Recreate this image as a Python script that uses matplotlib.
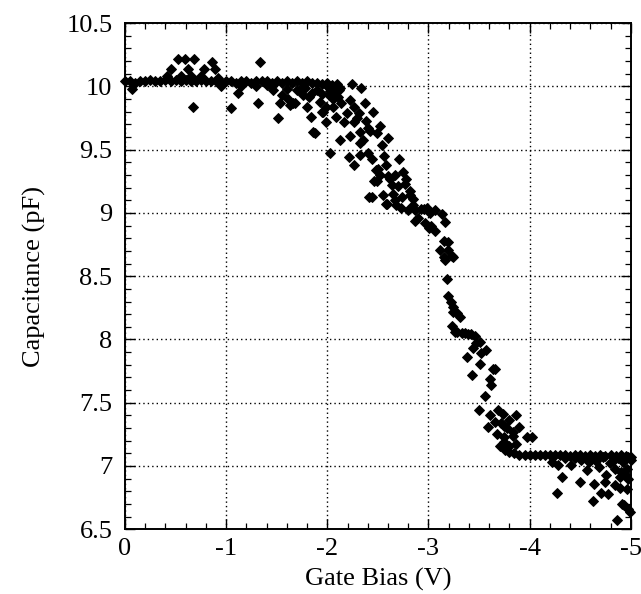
import matplotlib
matplotlib.use("Agg")
import matplotlib.pyplot as plt
from matplotlib.ticker import MultipleLocator, FuncFormatter

# ---- data ----
# main plateau near 10.04 pF (0 .. -2.05 V)
x_flat = [0.00, -0.05, -0.10, -0.15, -0.20, -0.25, -0.30, -0.35, -0.40, -0.45,
          -0.50, -0.55, -0.60, -0.65, -0.70, -0.75, -0.80, -0.85, -0.90, -0.95,
          -1.00, -1.05, -1.10, -1.15, -1.20, -1.25, -1.30, -1.35, -1.40, -1.45,
          -1.50, -1.55, -1.60, -1.65, -1.70, -1.75, -1.80, -1.85, -1.90, -1.95,
          -2.00, -2.05]
y_flat = [10.04, 10.04, 10.03, 10.04, 10.04, 10.05, 10.04, 10.04, 10.05, 10.04,
          10.05, 10.04, 10.05, 10.04, 10.04, 10.05, 10.04, 10.04, 10.04, 10.03,
          10.04, 10.04, 10.03, 10.04, 10.04, 10.03, 10.04, 10.04, 10.04, 10.03,
          10.04, 10.03, 10.04, 10.03, 10.04, 10.03, 10.04, 10.03, 10.03, 10.02,
          10.03, 10.01]

# scatter in the upper region (0 .. -2.15 V)
x_up = [-0.45, -0.52, -0.59, -0.68, -0.62, -0.78, -0.86, -0.89, -1.33, -0.42,
        -0.55, -0.65, -0.75, -0.92, -0.07, -0.67, -1.05, -1.12, -1.31, -1.51,
        -1.46, -1.53, -1.61, -1.63, -1.68, -1.55, -1.80, -1.84, -1.86, -1.76,
        -1.66, -1.96, -1.99, -1.88, -2.09, -2.06, -2.11, -2.12, -2.03, -1.93,
        -1.95, -1.99, -2.06, -2.03, -1.45, -1.60, -1.70, -1.78, -1.90, -1.95,
        -2.00, -2.05, -1.30, -1.15, -0.95, -1.40, -1.85, -2.08, -2.10, -2.13,
        -1.73, -1.82, -2.02]
y_up = [10.14, 10.22, 10.22, 10.22, 10.14, 10.14, 10.19, 10.14, 10.19, 10.08,
        10.08, 10.08, 10.08, 10.07, 9.98, 9.84, 9.83, 9.95, 9.87, 9.75,
        9.97, 9.87, 9.90, 9.85, 9.87, 9.93, 9.84, 9.76, 9.64, 9.93,
        9.87, 9.80, 9.72, 9.63, 9.76, 9.84, 9.92, 9.97, 9.96, 9.88,
        9.80, 9.84, 9.90, 9.47, 10.00, 9.98, 9.97, 9.99, 9.97, 9.94,
        10.00, 9.99, 10.00, 10.00, 10.00, 10.01, 9.95, 9.95, 10.02, 9.99,
        9.96, 9.92, 9.93]

# scatter in the middle region (-2.1 .. -3.5 V)
x_mid = [-2.24, -2.33, -2.37, -2.45, -2.14, -2.19, -2.17, -2.26, -2.31, -2.13,
         -2.22, -2.32, -2.40, -2.49, -2.52, -2.60, -2.54, -2.32, -2.21, -2.26,
         -2.32, -2.40, -2.44, -2.71, -2.50, -2.58, -2.49, -2.44, -2.52, -2.60,
         -2.67, -2.75, -2.64, -2.70, -2.77, -2.55, -2.58, -2.67, -2.74, -2.82,
         -2.85, -2.90, -2.22, -2.26, -2.29, -2.38, -2.42, -2.48, -2.46, -2.41,
         -2.65, -2.82, -2.85, -2.59, -2.68, -2.73, -2.80, -2.87, -2.93, -2.99,
         -3.06, -3.13, -2.87, -2.97, -3.03, -3.06, -3.01, -3.16, -2.96, -3.02,
         -3.11, -3.19, -3.16, -3.23, -3.15, -3.19, -3.24, -3.15, -3.18, -3.19,
         -3.24, -3.28, -3.22, -3.24, -3.31, -3.23, -3.26, -3.28, -3.33, -3.36,
         -3.39, -3.42, -3.46, -3.47, -3.51, -2.35, -2.56, -2.62, -2.78]
y_mid = [10.02, 9.99, 9.87, 9.80, 9.87, 9.79, 9.72, 9.72, 9.79, 9.58,
         9.61, 9.64, 9.67, 9.63, 9.69, 9.59, 9.54, 9.55, 9.44, 9.38,
         9.46, 9.47, 9.43, 9.43, 9.35, 9.38, 9.25, 9.13, 9.30, 9.29,
         9.30, 9.32, 9.22, 9.21, 9.23, 9.14, 9.07, 9.10, 9.13, 9.14,
         9.06, 8.96, 9.89, 9.84, 9.75, 9.73, 9.65, 9.34, 9.25, 9.13,
         9.15, 9.17, 9.11, 9.07, 9.06, 9.04, 9.02, 9.02, 9.03, 9.04,
         9.02, 8.99, 8.94, 8.92, 8.90, 8.86, 8.88, 8.93, 9.03, 9.00,
         8.71, 8.77, 8.63, 8.66, 8.78, 8.71, 8.65, 8.65, 8.48, 8.34,
         8.26, 8.21, 8.30, 8.22, 8.18, 8.11, 8.06, 8.06, 8.05, 8.05,
         8.04, 8.04, 8.03, 7.97, 7.98, 9.58, 9.45, 9.27, 9.27]

# lower plateau near 7.09 pF (-3.85 .. -5 V)
x_low_flat = [-3.85, -3.90, -3.95, -4.00, -4.05, -4.10, -4.15, -4.20, -4.25, -4.30,
              -4.35, -4.40, -4.45, -4.50, -4.55, -4.60, -4.65, -4.70, -4.75, -4.80,
              -4.85, -4.90, -4.95, -5.00]
y_low_flat = [7.10, 7.09, 7.09, 7.09, 7.09, 7.09, 7.09, 7.09, 7.09, 7.09,
              7.09, 7.08, 7.09, 7.09, 7.08, 7.09, 7.08, 7.09, 7.08, 7.09,
              7.08, 7.09, 7.08, 7.07]

# scatter in the lower region (-3.4 .. -5 V)
x_low = [-3.44, -3.52, -3.57, -3.38, -3.51, -3.66, -3.64, -3.43, -3.61, -3.62,
         -3.56, -3.50, -3.61, -3.69, -3.74, -3.87, -3.59, -3.66, -3.72, -3.80,
         -3.78, -3.90, -3.84, -3.97, -3.75, -3.71, -3.80, -3.87, -3.80, -3.75,
         -3.84, -4.02, -3.75, -3.68, -3.76, -4.22, -4.28, -4.32, -4.50, -4.41,
         -4.51, -4.59, -4.57, -4.64, -4.69, -4.75, -4.71, -4.78, -4.84, -4.89,
         -4.84, -4.92, -4.97, -4.96, -4.97, -4.96, -4.89, -4.91, -4.97, -4.86,
         -4.27, -4.63, -4.79, -4.73, -4.87, -5.00, -4.76, -4.99, -4.93, -4.45,
         -4.62, -4.66, -4.82, -4.90, -4.95, -4.35]
y_low = [7.93, 7.89, 7.92, 7.86, 7.81, 7.77, 7.77, 7.72, 7.69, 7.64,
         7.55, 7.44, 7.40, 7.44, 7.41, 7.40, 7.31, 7.35, 7.34, 7.36,
         7.30, 7.31, 7.27, 7.23, 7.23, 7.16, 7.16, 7.17, 7.11, 7.32,
         7.24, 7.23, 7.19, 7.25, 7.13, 7.03, 7.01, 6.91, 6.87, 7.01,
         7.05, 7.03, 6.97, 6.86, 6.99, 6.87, 6.79, 6.78, 6.85, 6.91,
         6.98, 7.03, 7.07, 6.98, 6.90, 6.82, 6.83, 6.70, 6.66, 6.57,
         6.79, 6.72, 7.02, 7.07, 7.06, 7.05, 6.93, 6.64, 6.69, 7.06,
         7.07, 7.04, 7.04, 6.95, 6.93, 7.06]

x_ticks = [0, -1, -2, -3, -4, -5]
y_ticks = [6.5, 7, 7.5, 8, 8.5, 9, 9.5, 10, 10.5]

# ---- figure ----
plt.rcParams['font.family'] = ['Liberation Serif', 'DejaVu Serif']
plt.rcParams['axes.unicode_minus'] = False

fig = plt.figure(figsize=(6.41, 5.94), dpi=100)
ax = fig.add_axes([0.195, 0.109, 0.789, 0.852])

series = [(x_flat, y_flat), (x_up, y_up), (x_mid, y_mid),
          (x_low_flat, y_low_flat), (x_low, y_low)]
for xs, ys in series:
    ax.plot(xs, ys, linestyle='none', marker='D', markersize=4.8,
            markerfacecolor='black', markeredgecolor='black',
            markeredgewidth=0.7, clip_on=False, zorder=3)

ax.set_xlim(0, -5)
ax.set_ylim(6.5, 10.5)
ax.set_xticks(x_ticks)
ax.set_yticks(y_ticks)
ax.xaxis.set_minor_locator(MultipleLocator(0.2))
ax.yaxis.set_minor_locator(MultipleLocator(0.1))

def fmt(v, pos):
    if abs(v - round(v)) < 1e-9:
        return "%d" % round(v)
    return ("%g" % v)
ax.xaxis.set_major_formatter(FuncFormatter(fmt))
ax.yaxis.set_major_formatter(FuncFormatter(fmt))

ax.tick_params(which='both', direction='in', top=True, right=True,
               colors='black', labelsize=19)
ax.tick_params(which='major', length=7, width=1.0)
ax.tick_params(which='minor', length=4, width=0.9)
ax.tick_params(axis='y', which='major', pad=9)
ax.tick_params(axis='x', which='major', pad=6)

ax.grid(True, which='major', linestyle=(0, (1.0, 2.2)), color='black', linewidth=1.0)
ax.set_axisbelow(True)
for s in ax.spines.values():
    s.set_linewidth(1.4)
    s.set_color('black')

ax.set_xlabel('Gate Bias (V)', fontsize=19, labelpad=6)
ax.set_ylabel('Capacitance (pF)', fontsize=19, labelpad=15)

fig.savefig('out.png', dpi=100, facecolor='white')
